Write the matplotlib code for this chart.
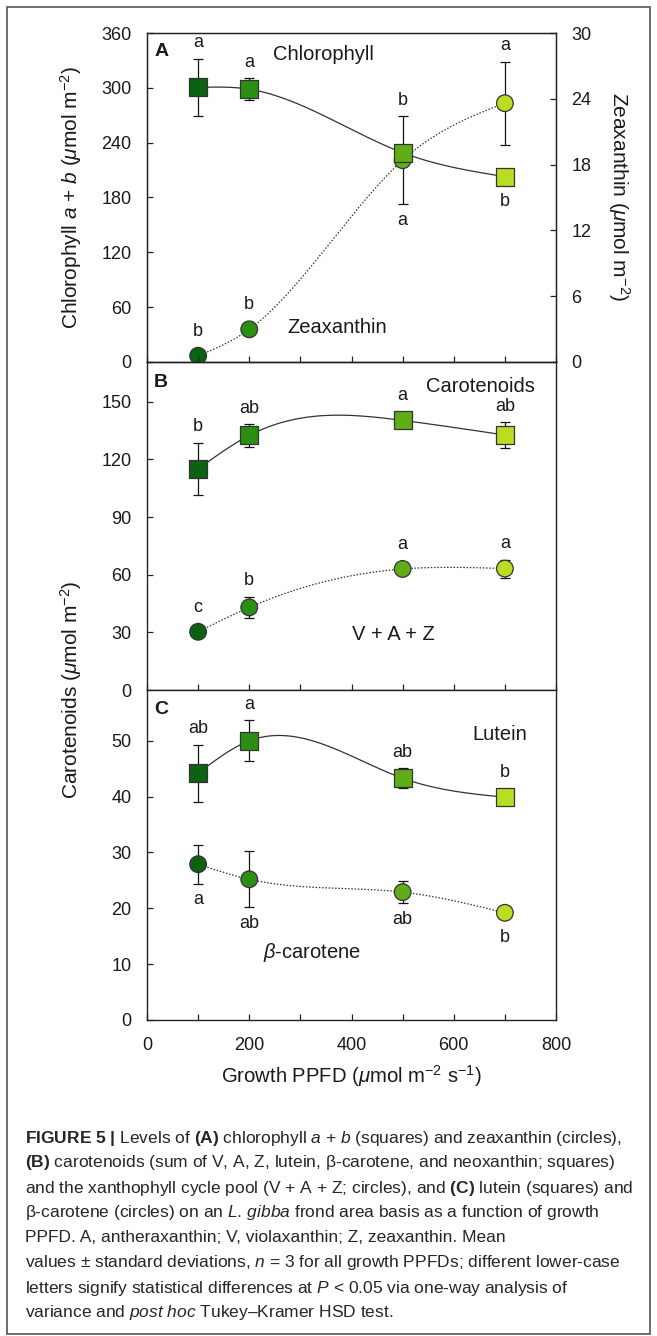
import numpy as np
import matplotlib
matplotlib.use("Agg")
import matplotlib.pyplot as plt
from matplotlib import font_manager
from matplotlib.patches import Rectangle

# pick an Arial-like font
names = {f.name for f in font_manager.fontManager.ttflist}
FONT = 'Liberation Sans' if 'Liberation Sans' in names else 'DejaVu Sans'
plt.rcParams['font.family'] = [FONT, 'DejaVu Sans']
plt.rcParams['mathtext.fontset'] = 'custom'
plt.rcParams['mathtext.rm'] = FONT
plt.rcParams['mathtext.it'] = FONT + ':italic'
plt.rcParams['mathtext.bf'] = FONT + ':bold'

# data
ppfd = [100, 200, 500, 700]
point_colors = ['#0b6311', '#2b8f14', '#5fae17', '#b8dd22']

chl = [300.5, 298.5, 229.0, 202.8]
chl_err = [31.5, 12.0, 6.0, 4.0]
chl_letters = ['a', 'a', 'b', 'b']
chl_pos = ['above', 'above', 'above', 'below']

zea = [0.57, 2.98, 18.4, 23.6]
zea_err = [0.3, 0.3, 4.0, 3.8]
zea_letters = ['b', 'b', 'a', 'a']
zea_pos = ['above', 'above', 'below', 'above']

car = [115.0, 132.5, 140.3, 132.7]
car_err = [13.6, 5.8, 2.5, 6.6]
car_letters = ['b', 'ab', 'a', 'ab']

vaz = [30.3, 43.0, 63.0, 63.2]
vaz_err = [1.5, 5.5, 1.5, 4.7]
vaz_letters = ['c', 'b', 'a', 'a']

lut = [44.2, 50.0, 43.3, 39.9]
lut_err = [5.1, 3.7, 1.8, 0.8]
lut_letters = ['ab', 'a', 'ab', 'b']

bcar = [27.9, 25.2, 22.9, 19.2]
bcar_err = [3.5, 5.0, 2.0, 0.8]
bcar_letters = ['a', 'ab', 'ab', 'b']

W, H = 657, 1336
fig = plt.figure(figsize=(W / 100, H / 100), dpi=100)

AX_L, AX_R = 147, 556
TXT = '#1a1a1a'
SQ, CI = 13.0, 12.0   # marker sizes (pt)


def rect(top, bot):
    return [AX_L / W, 1 - bot / H, (AX_R - AX_L) / W, (bot - top) / H]


def natural_spline(xs, ys, n=300):
    xs = np.asarray(xs, float)
    ys = np.asarray(ys, float)
    k = len(xs)
    h = np.diff(xs)
    A = np.zeros((k, k))
    r = np.zeros(k)
    A[0, 0] = A[-1, -1] = 1
    for i in range(1, k - 1):
        A[i, i - 1] = h[i - 1]
        A[i, i] = 2 * (h[i - 1] + h[i])
        A[i, i + 1] = h[i]
        r[i] = 6 * ((ys[i + 1] - ys[i]) / h[i] - (ys[i] - ys[i - 1]) / h[i - 1])
    M = np.linalg.solve(A, r)
    xx = np.linspace(xs[0], xs[-1], n)
    yy = np.empty_like(xx)
    for j, x in enumerate(xx):
        i = min(np.searchsorted(xs, x, side='right') - 1, k - 2)
        t0, t1 = xs[i + 1] - x, x - xs[i]
        yy[j] = (M[i] * t0 ** 3 + M[i + 1] * t1 ** 3) / (6 * h[i]) \
            + (ys[i] / h[i] - M[i] * h[i] / 6) * t0 \
            + (ys[i + 1] / h[i] - M[i + 1] * h[i] / 6) * t1
    return xx, yy


def style(ax, ymax, yticks, xlabels=False):
    ax.set_xlim(0, 800)
    ax.set_ylim(0, ymax)
    ax.set_yticks(yticks)
    ax.set_xticks([0, 200, 400, 600, 800])
    ax.set_xticks([100, 300, 500, 700], minor=True)
    ax.tick_params(axis='both', which='both', direction='in', length=4.5,
                   width=0.9, colors='#222222', labelsize=13, labelcolor=TXT)
    ax.tick_params(axis='y', pad=11)
    ax.tick_params(axis='x', pad=12, labelbottom=xlabels)
    for s in ax.spines.values():
        s.set_linewidth(1.0)
        s.set_color('#222222')


def draw_series(ax, y, err, marker, ls):
    xx, yy = natural_spline(ppfd, y)
    ax.plot(xx, yy, color='#333333', lw=0.9, ls=ls, zorder=1)
    ax.errorbar(ppfd, y, yerr=err, fmt='none', ecolor='#111111',
                elinewidth=0.9, capsize=3.4, capthick=0.9, zorder=2)
    size = SQ if marker == 's' else CI
    ax.scatter(ppfd, y, s=size ** 2, marker=marker, c=point_colors,
               edgecolors='#333333', linewidths=0.9, zorder=3)


def extents(ax, y, err, marker):
    half = (SQ if marker == 's' else CI) / 72 * 100 / 2
    out = []
    for x, v, e in zip(ppfd, y, err):
        _, yc = ax.transData.transform((x, v))
        _, ye = ax.transData.transform((x, v + e))
        d = max(ye - yc, half)
        out.append((yc - d, yc + d))
    return out


def put_letters(ax, groups, gap=16):
    # groups: list of (extents, letters, positions)
    for i, x in enumerate(ppfd):
        xd = ax.transData.transform((x, 0))[0]
        for ext, letters, pos in groups:
            lo, hi = ext[i]
            # merge with overlapping marks of other series at this x
            for ext2, _, _ in groups:
                lo2, hi2 = ext2[i]
                if lo2 <= hi and hi2 >= lo:
                    lo, hi = min(lo, lo2), max(hi, hi2)
            yd = hi + gap if pos[i] == 'above' else lo - gap
            fig.text(xd / W, yd / H, letters[i], ha='center', va='center',
                     fontsize=13, color=TXT)


# panel A
axA = fig.add_axes(rect(33, 362))
axA2 = axA.twinx()
style(axA, 360, np.arange(0, 361, 60))
axA2.set_ylim(0, 30)
axA2.set_yticks(np.arange(0, 31, 6))
axA2.tick_params(axis='y', direction='in', length=4.5, width=0.9,
                 colors='#222222', labelsize=13, labelcolor=TXT, pad=11)
axA.set_zorder(axA2.get_zorder() + 1)
axA.patch.set_visible(False)
draw_series(axA2, zea, zea_err, 'o', (0, (1.2, 1.4)))
draw_series(axA, chl, chl_err, 's', '-')

# panel B
axB = fig.add_axes(rect(362, 690))
style(axB, 170.7, np.arange(0, 151, 30))
draw_series(axB, vaz, vaz_err, 'o', (0, (1.2, 1.4)))
draw_series(axB, car, car_err, 's', '-')

# panel C
axC = fig.add_axes(rect(690, 1020))
style(axC, 59.1, np.arange(0, 51, 10), xlabels=True)
draw_series(axC, bcar, bcar_err, 'o', (0, (1.2, 1.4)))
draw_series(axC, lut, lut_err, 's', '-')

# significance letters
eA1 = extents(axA, chl, chl_err, 's')
eA2 = extents(axA2, zea, zea_err, 'o')
put_letters(axA, [(eA1, chl_letters, chl_pos), (eA2, zea_letters, zea_pos)])
eB1 = extents(axB, car, car_err, 's')
eB2 = extents(axB, vaz, vaz_err, 'o')
put_letters(axB, [(eB1, car_letters, ['above'] * 4),
                  (eB2, vaz_letters, ['above'] * 4)])
eC1 = extents(axC, lut, lut_err, 's')
eC2 = extents(axC, bcar, bcar_err, 'o')
put_letters(axC, [(eC1, lut_letters, ['above'] * 4),
                  (eC2, bcar_letters, ['below'] * 4)])


def ftext(xp, yp, s, **kw):
    kw.setdefault('fontsize', 14.5)
    kw.setdefault('color', TXT)
    kw.setdefault('ha', 'center')
    kw.setdefault('va', 'center')
    fig.text(xp / W, 1 - yp / H, s, **kw)


# panel labels and series names
ftext(162, 51, 'A', fontweight='bold', fontsize=14)
ftext(161, 382, 'B', fontweight='bold', fontsize=14)
ftext(161, 709, 'C', fontweight='bold', fontsize=14)
ftext(323, 55, 'Chlorophyll')
ftext(337, 327, 'Zeaxanthin')
ftext(480, 387, 'Carotenoids')
ftext(393, 634, 'V + A + Z')
ftext(500, 734, 'Lutein')
ftext(312, 952, r'$\mathit{β}$-carotene')

# axis labels
ftext(71, 197, r'Chlorophyll $\mathit{a}$ + $\mathit{b}$ ($\mathit{μ}$mol m$^{-2}$)',
      rotation=90, fontsize=15)
ftext(71, 690, r'Carotenoids ($\mathit{μ}$mol m$^{-2}$)', rotation=90, fontsize=15)
ftext(619, 197, r'Zeaxanthin ($\mathit{μ}$mol m$^{-2}$)', rotation=270, fontsize=15)
ftext(351, 1076, r'Growth PPFD ($\mathit{μ}$mol m$^{-2}$ s$^{-1}$)', fontsize=14.6)

# caption
caption = [
    r'$\mathbf{FIGURE\ 5\ |}$ Levels of $\mathbf{(A)}$ chlorophyll $\mathit{a}$ + $\mathit{b}$ (squares) and zeaxanthin (circles),',
    r'$\mathbf{(B)}$ carotenoids (sum of V, A, Z, lutein, β-carotene, and neoxanthin; squares)',
    r'and the xanthophyll cycle pool (V + A + Z; circles), and $\mathbf{(C)}$ lutein (squares) and',
    r'β-carotene (circles) on an $\mathit{L.\,gibba}$ frond area basis as a function of growth',
    r'PPFD. A, antheraxanthin; V, violaxanthin; Z, zeaxanthin. Mean',
    r'values ± standard deviations, $\mathit{n}$ = 3 for all growth PPFDs; different lower-case',
    r'letters signify statistical differences at $\mathit{P}$ < 0.05 via one-way analysis of',
    r'variance and $\mathit{post}$ $\mathit{hoc}$ Tukey–Kramer HSD test.',
]
for i, line in enumerate(caption):
    ftext(25, 1138 + i * 25, line, ha='left', fontsize=12.5, color='#262626')

# outer frame
fig.add_artist(Rectangle((7 / W, 1 - 1334 / H), 643 / W, 1327 / H,
                         transform=fig.transFigure, fill=False,
                         edgecolor='#555555', lw=1.2))

fig.savefig('out.png', dpi=100)
